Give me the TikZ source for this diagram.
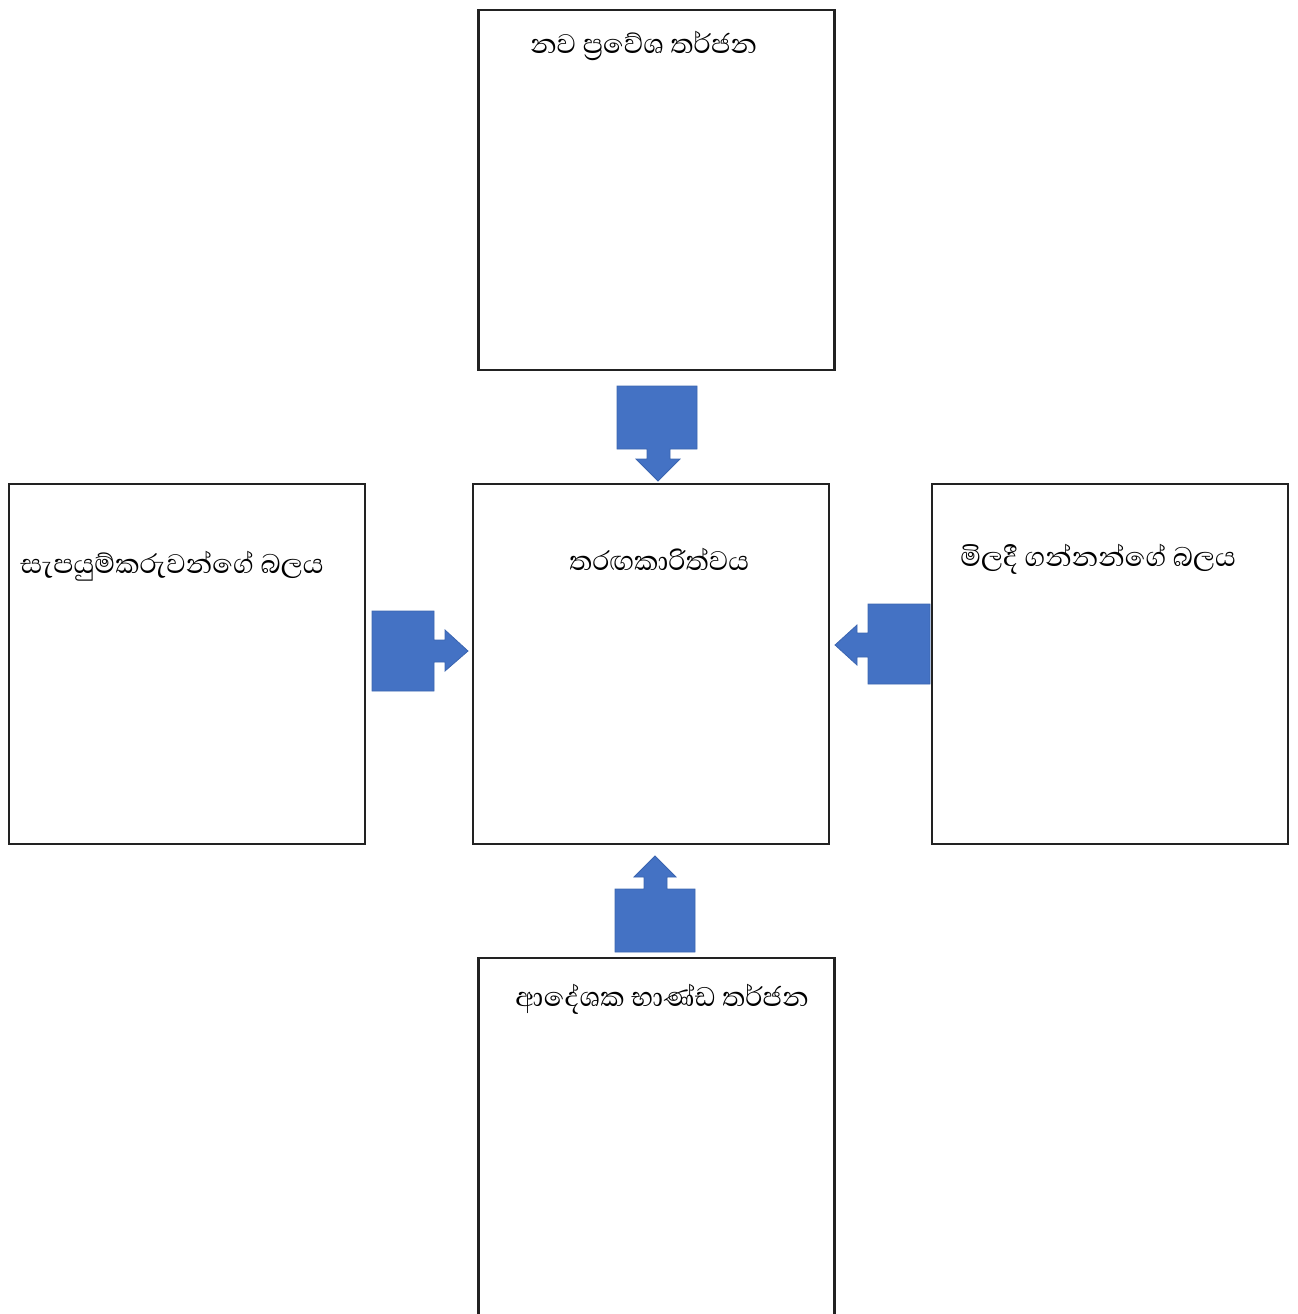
\documentclass[tikz,border=0pt]{standalone}
\usepackage{fontspec}
\newfontfamily\sinhalafont[Script=Sinhala]{Abhaya Libre}
\definecolor{arrowblue}{HTML}{4472C4}
\definecolor{arrowedge}{HTML}{3B65B0}
\definecolor{boxline}{HTML}{222222}
\begin{document}
\begin{tikzpicture}[x=0.75pt,y=-0.75pt,
  panel/.style={draw=boxline,line width=1.6pt,inner sep=0pt},
  lbl/.style={anchor=west,inner sep=0pt,font=\sinhalafont\fontsize{25.8}{30}\selectfont},
  blockarrow/.style={fill=arrowblue,draw=arrowedge,line width=0.6pt}]
\useasboundingbox (0,0) rectangle (1297,1314);
% panels
\node[panel,minimum width=267pt,minimum height=270pt] (top) at (656.5,190) {};
\node[panel,minimum width=267pt,minimum height=270pt] (center) at (651,664) {};
\node[panel,minimum width=267pt,minimum height=270pt] (left) at (187,664) {};
\node[panel,minimum width=267pt,minimum height=270pt] (right) at (1110,664) {};
\node[panel,minimum width=267pt,minimum height=274pt] (bottom) at (656.5,1141) {};
% labels
\node[lbl] (ltop) at (530,46) {නව ප්‍රවේශ තර්ජන};
\node[lbl] (lcenter) at (569,559) {තරඟකාරිත්වය};
\node[lbl] (lleft) at (20,566) {සැපයුම්කරුවන්ගේ බලය};
\node[lbl] (lright) at (960,559) {මිලදී ගන්නන්ගේ බලය};
\node[lbl] (lbottom) at (515,999) {ආදේශක භාණ්ඩ තර්ජන};
% block arrows
\draw[blockarrow] (617,386) -- (697,386) -- (697,449) -- (670,449) -- (670,459) -- (680,459)
  -- (658,481) -- (636,459) -- (647,459) -- (647,449) -- (617,449) -- cycle;
\draw[blockarrow] (372,611) -- (434,611) -- (434,640) -- (445,640) -- (445,630) -- (468,651)
  -- (445,671) -- (445,662) -- (434,662) -- (434,691) -- (372,691) -- cycle;
\draw[blockarrow] (930,604) -- (868,604) -- (868,633) -- (857,633) -- (857,625) -- (835,645)
  -- (857,665) -- (857,657) -- (868,657) -- (868,684) -- (930,684) -- cycle;
\draw[blockarrow] (615,952) -- (695,952) -- (695,889) -- (667,889) -- (667,877) -- (676,877)
  -- (655,856) -- (634,877) -- (644,877) -- (644,889) -- (615,889) -- cycle;
\end{tikzpicture}
\end{document}
